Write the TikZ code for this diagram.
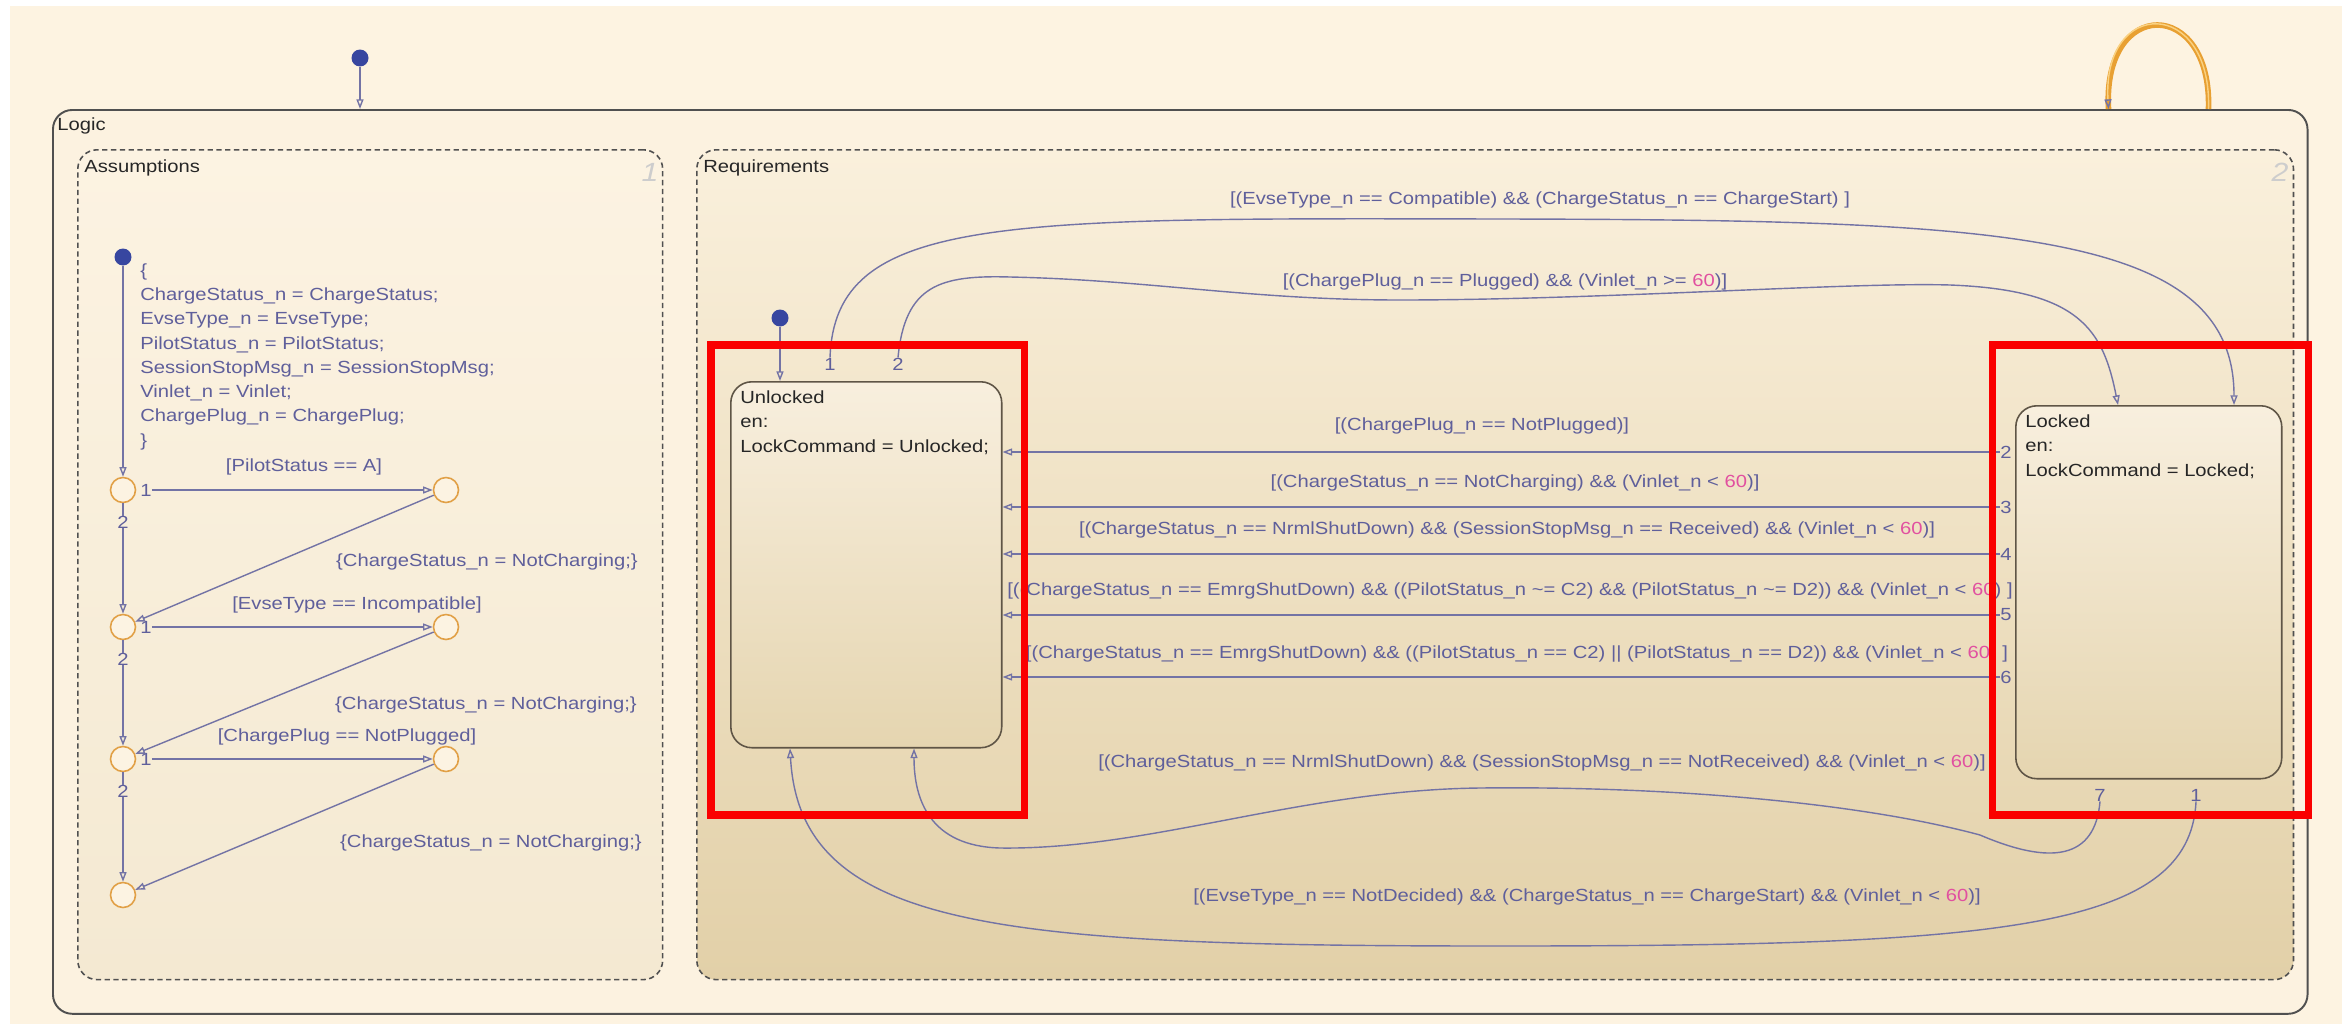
\documentclass[tikz,border=0pt]{standalone}
\usepackage{fontspec}
\setmainfont{Liberation Sans}[FakeStretch=1.15]
\usepackage{xcolor}
\usepackage{tikz}
\usetikzlibrary{arrows.meta, calc}

\definecolor{bgcream}{RGB}{253,243,225}
\definecolor{logicfill}{RGB}{252,242,224}
\definecolor{framegray}{RGB}{80,80,80}
\definecolor{asstop}{RGB}{252,243,226}
\definecolor{assbot}{RGB}{244,233,210}
\definecolor{reqtop}{RGB}{250,240,220}
\definecolor{reqbot}{RGB}{226,208,168}
\definecolor{statetop}{RGB}{248,239,222}
\definecolor{statebot}{RGB}{229,213,176}
\definecolor{stateedge}{RGB}{95,85,70}
\definecolor{transline}{RGB}{115,115,165}
\definecolor{translab}{RGB}{95,95,155}
\definecolor{dotblue}{RGB}{55,70,160}
\definecolor{juncorange}{RGB}{225,160,70}
\definecolor{numpink}{RGB}{225,80,160}
\definecolor{markred}{RGB}{250,0,0}
\definecolor{hilite}{RGB}{232,160,50}
\definecolor{hilitecore}{RGB}{250,210,130}
\definecolor{cornergray}{RGB}{205,205,205}

\newcommand{\limitval}{\textcolor{numpink}{60}}

\begin{document}
\begin{tikzpicture}[
            x=0.02cm, y=-0.02cm,
            every node/.style={font=\fontsize{10}{13.8}\selectfont, inner sep=0pt},
            chart/.style={rectangle, rounded corners=11pt, draw=framegray, line width=1.1pt, fill=logicfill, anchor=north west},
            subchart/.style={rectangle, rounded corners=11pt, draw=framegray, line width=0.9pt, dash pattern=on 3pt off 2pt, anchor=north west},
            state/.style={rectangle, rounded corners=12pt, draw=stateedge, line width=0.9pt, top color=statetop, bottom color=statebot, anchor=north west},
            stext/.style={align=left, anchor=base west, text=black!85},
            boxlab/.style={anchor=base west, text=black!85},
            cornernum/.style={text=cornergray, font=\fontsize{15}{15}\selectfont\itshape},
            tlab/.style={text=translab},
            actlab/.style={text=translab, align=left, anchor=base west},
            dot/.style={circle, fill=dotblue, minimum size=0.34cm},
            junc/.style={circle, draw=juncorange, line width=0.9pt, fill=asstop, minimum size=0.5cm},
            trans/.style={draw=transline, line width=0.8pt},
            arr/.style={-{Triangle[open, length=5.5pt, width=4pt, color=transline]}},
            hilite/.style={draw=hilite, line width=3.2pt},
            redmark/.style={draw=markred, line width=4pt}
        ]
            \useasboundingbox (0,0) rectangle (2351,1024);
            \fill[white] (0,0) rectangle (2351,1024);
            \fill[bgcream] (10,6) rectangle (2342,1024);

            % charts
            \node[chart, minimum width=45.1cm, minimum height=18.08cm] (logic) at (52,109) {};
            \node[boxlab] (logiclab) at (57,131) {Logic};
            \node[subchart, top color=asstop, bottom color=assbot, minimum width=11.7cm, minimum height=16.6cm] (assume) at (77,149) {};
            \node[boxlab] (assumelab) at (84,172) {Assumptions};
            \node[cornernum] (assumenum) at (650,172) {1};
            \node[subchart, top color=reqtop, bottom color=reqbot, minimum width=31.94cm, minimum height=16.6cm] (require) at (696,149) {};
            \node[boxlab] (requirelab) at (703,172) {Requirements};
            \node[cornernum] (requirenum) at (2280,172) {2};

            % default and self transitions of Logic
            \node[dot] (logicdot) at (360,58) {};
            \draw[trans, arr] (logicdot) -- (logicdot |- logic.north);
            \coordinate (selfout) at ($(logic.north east)+(-100,0)$);
            \coordinate (selfin) at ($(logic.north east)+(-200,0)$);
            \draw[hilite] (selfout) .. controls (2212,-3) and (2102,-3) .. (selfin);
            \draw[trans, draw=hilitecore, arr] (selfout) .. controls (2212,-3) and (2102,-3) .. (selfin);

            % Assumptions
            \node[dot] (adot) at (123,257) {};
            \node[actlab] (acts) at (140,446) {\{\\ChargeStatus\_n = ChargeStatus;\\EvseType\_n = EvseType;\\PilotStatus\_n = PilotStatus;\\SessionStopMsg\_n = SessionStopMsg;\\Vinlet\_n = Vinlet;\\ChargePlug\_n = ChargePlug;\\\}};
            \node[junc] (j1) at (123,490) {};
            \node[junc] (j2) at (123,627) {};
            \node[junc] (j3) at (123,759) {};
            \node[junc] (j4) at (123,895) {};
            \node[junc] (k1) at (446,490) {};
            \node[junc] (k2) at (446,627) {};
            \node[junc] (k3) at (446,759) {};

            \draw[trans, arr] (adot) -- (j1);
            \node[tlab] (j1one) at (146,490) {1};
            \node[tlab] (j1two) at (123,522) {2};
            \node[tlab] (j2one) at (146,627) {1};
            \node[tlab] (j2two) at (123,659) {2};
            \node[tlab] (j3one) at (146,759) {1};
            \node[tlab] (j3two) at (123,791) {2};
            \draw[trans, arr] (j1one) -- (k1);
            \draw[trans, arr] (j2one) -- (k2);
            \draw[trans, arr] (j3one) -- (k3);
            \draw[trans] (j1) -- (j1two);
            \draw[trans, arr] (j1two) -- (j2);
            \draw[trans] (j2) -- (j2two);
            \draw[trans, arr] (j2two) -- (j3);
            \draw[trans] (j3) -- (j3two);
            \draw[trans, arr] (j3two) -- (j4);
            \draw[trans, arr] (k1) -- (j2);
            \draw[trans, arr] (k2) -- (j3);
            \draw[trans, arr] (k3) -- (j4);

            \node[tlab] (g1lab) at (304,467) {[PilotStatus == A]};
            \node[tlab] (a1lab) at (487,562) {\{ChargeStatus\_n = NotCharging;\}};
            \node[tlab] (g2lab) at (357,605) {[EvseType == Incompatible]};
            \node[tlab] (a2lab) at (486,705) {\{ChargeStatus\_n = NotCharging;\}};
            \node[tlab] (g3lab) at (347,737) {[ChargePlug == NotPlugged]};
            \node[tlab] (a3lab) at (491,843) {\{ChargeStatus\_n = NotCharging;\}};

            % Requirements
            \node[state, minimum width=5.42cm, minimum height=7.32cm] (unlocked) at (730,381) {};
            \node[stext] (unlockedtxt) at (740,452) {Unlocked\\en:\\LockCommand = Unlocked;};
            \node[state, minimum width=5.32cm, minimum height=7.46cm] (locked) at (2015,405) {};
            \node[stext] (lockedtxt) at (2025,476) {Locked\\en:\\LockCommand = Locked;};

            \node[dot] (rdot) at (780,318) {};
            \draw[trans, arr] (rdot) -- (rdot |- unlocked.north);

            % Unlocked -> Locked
            \node[tlab] (uone) at (830,364) {1};
            \node[tlab] (utwo) at (898,364) {2};
            \draw[trans, arr] (uone.north) .. controls (835,215) and (1000,218) .. (1500,219)
                .. controls (2000,220) and (2234,230) .. ($(locked.north west)+(219,0)$);
            \draw[trans, arr] (utwo.north) .. controls (905,285) and (940,275) .. (1010,277)
                .. controls (1150,280) and (1250,300) .. (1400,300)
                .. controls (1600,300) and (1850,282) .. (1950,285)
                .. controls (2080,290) and (2103,330) .. ($(locked.north west)+(103,0)$);
            \node[tlab] (t1lab) at (1540,200) {[(EvseType\_n == Compatible) \&\& (ChargeStatus\_n == ChargeStart) ]};
            \node[tlab] (t2lab) at (1505,282) {[(ChargePlug\_n == Plugged) \&\& (Vinlet\_n >= \limitval)]};

            % Locked -> Unlocked
            \node[tlab] (ltwo) at (2006,452) {2};
            \node[tlab] (lthree) at (2006,507) {3};
            \node[tlab] (lfour) at (2006,554) {4};
            \node[tlab] (lfive) at (2006,615) {5};
            \node[tlab] (lsix) at (2006,677) {6};
            \draw[trans, arr] (ltwo) -- (ltwo -| unlocked.east);
            \draw[trans, arr] (lthree) -- (lthree -| unlocked.east);
            \draw[trans, arr] (lfour) -- (lfour -| unlocked.east);
            \draw[trans, arr] (lfive) -- (lfive -| unlocked.east);
            \draw[trans, arr] (lsix) -- (lsix -| unlocked.east);
            \node[tlab] (t3lab) at (1482,426) {[(ChargePlug\_n == NotPlugged)]};
            \node[tlab] (t4lab) at (1515,483) {[(ChargeStatus\_n == NotCharging) \&\& (Vinlet\_n < \limitval)]};
            \node[tlab] (t5lab) at (1507,530) {[(ChargeStatus\_n == NrmlShutDown) \&\& (SessionStopMsg\_n == Received) \&\& (Vinlet\_n < \limitval)]};
            \node[tlab] (t6lab) at (1510,591) {[((ChargeStatus\_n == EmrgShutDown) \&\& ((PilotStatus\_n \textasciitilde= C2) \&\& (PilotStatus\_n \textasciitilde= D2)) \&\& (Vinlet\_n < \limitval) ]};
            \node[tlab] (t7lab) at (1517,654) {[(ChargeStatus\_n == EmrgShutDown) \&\& ((PilotStatus\_n == C2) || (PilotStatus\_n == D2)) \&\& (Vinlet\_n < \limitval) ]};

            \node[tlab] (lseven) at (2100,795) {7};
            \node[tlab] (lone) at (2196,795) {1};
            \draw[trans, arr] (lseven.south) .. controls (2095,860) and (2050,865) .. (1980,835)
                .. controls (1850,800) and (1650,786) .. (1480,788)
                .. controls (1300,790) and (1150,850) .. (1000,848)
                .. controls (930,846) and (914,800) .. ($(unlocked.south west)+(184,0)$);
            \draw[trans, arr] (lone.south) .. controls (2190,930) and (2000,946) .. (1500,946)
                .. controls (1000,946) and (800,930) .. ($(unlocked.south west)+(60,0)$);
            \node[tlab] (t8lab) at (1542,763) {[(ChargeStatus\_n == NrmlShutDown) \&\& (SessionStopMsg\_n == NotReceived) \&\& (Vinlet\_n < \limitval)]};
            \node[tlab] (t9lab) at (1587,897) {[(EvseType\_n == NotDecided) \&\& (ChargeStatus\_n == ChargeStart) \&\& (Vinlet\_n < \limitval)]};

            % highlight marks
            \draw[redmark] (711,345) rectangle (1024,815);
            \draw[redmark] (1992,345) rectangle (2308,815);
        \end{tikzpicture}
\end{document}
